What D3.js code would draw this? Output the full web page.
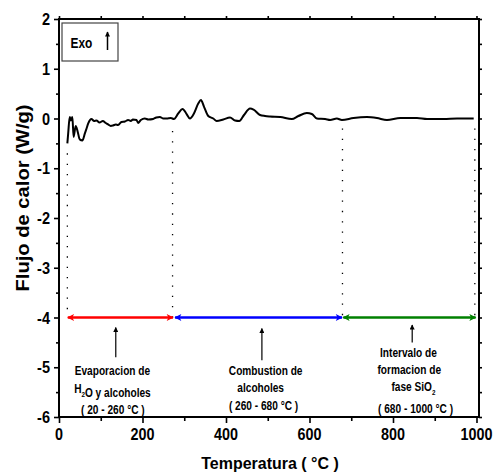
<!DOCTYPE html>
<html>
<head>
<meta charset="utf-8">
<script src="https://cdn.jsdelivr.net/npm/d3@7/dist/d3.min.js"></script>
<style>
  html, body { margin: 0; padding: 0; background: #fff; }
  svg { display: block; }
  text { font-family: "Liberation Sans", Arial, sans-serif; font-weight: bold; fill: #000; }
</style>
</head>
<body>
<svg id="chart" width="494" height="475"></svg>
<script>
// DSC trace: temperature (°C) vs heat flow (W/g)
const temperature = [20, 22, 25.7, 28.8, 32, 35, 40, 44.9, 49.7, 56, 62, 66, 70, 77.7, 84, 89.7, 97, 105,
  112, 117.6, 124, 129.6, 136, 141.6, 149.7, 158, 165.5, 172, 177, 185.7, 189.5, 196, 205.6, 214, 225.5,
  233, 241.6, 250, 257.7, 268, 275.2, 285.5, 296, 305.7, 313.6, 323.2, 333.5, 340, 347.2, 357.5, 369.5,
  377.6, 393.5, 409.6, 421.6, 431.9, 443.1, 457.5, 466, 481.5, 493.5, 505.5, 530, 557.6, 573.4, 593.6,
  605.6, 617.6, 637.5, 649.5, 665.5, 677.6, 705.4, 737.5, 761.5, 785.5, 817.5, 857.5, 881.5, 921.3,
  953.5, 993.3];
const heatFlow = [-0.5, -0.3, 0.03, -0.04, 0.03, -0.37, -0.15, -0.27, -0.42, -0.44, -0.3, -0.2, -0.1,
  -0.01, -0.05, -0.04, -0.08, -0.05, -0.09, -0.12, -0.15, -0.14, -0.12, -0.13, -0.07, -0.06, -0.03,
  -0.05, -0.02, -0.03, -0.09, -0.03, 0.0, -0.02, -0.01, 0.02, 0.03, 0.0, 0.0, 0.01, -0.01, 0.1, 0.19,
  0.09, 0.0, 0.1, 0.3, 0.37, 0.24, 0.05, 0.0, -0.05, -0.02, 0.02, -0.04, -0.05, 0.07, 0.2, 0.18, 0.07,
  0.05, 0.04, 0.03, -0.01, 0.05, 0.11, 0.09, 0.0, -0.01, -0.03, 0.0, -0.03, 0.01, 0.03, 0.01, -0.03,
  0.01, 0.01, -0.01, -0.01, 0.0, 0.0];

// Axis ticks
const xTicks = [0, 200, 400, 600, 800, 1000];
const xMinorTicks = [100, 300, 500, 700, 900];
const yTicks = [-6, -5, -4, -3, -2, -1, 0, 1, 2];
const yMinorTicks = [-5.5, -4.5, -3.5, -2.5, -1.5, -0.5, 0.5, 1.5];

// Temperature intervals marked below the trace
const intervalStart = [21, 278, 681];
const intervalEnd = [273, 678, 998];
const intervalColors = ["#ff0000", "#0000ff", "#008000"];
const intervalLevel = -4;
const dividerTemps = [20, 272, 679, 996];
const dividerTop = [-0.7, -0.25, -0.2, -0.2];

// Pointer arrows and their captions
const pointerTemp = [136, 486, 846];
const pointerTop = [-4.2, -4.22, -4.15];
const pointerBottom = [-4.8, -4.86, -4.5];
const captionLines = [
  [["Evaporacion de"], ["H", {sub: "2"}, "O y alcoholes"], ["( 20 - 260 °C )"]],
  [["Combustion de"], ["alcoholes"], ["( 260 - 680 °C )"]],
  [["Intervalo de"], ["formacion de"], ["fase SiO", {sub: "2"}], ["( 680 - 1000 °C )"]]
];
const captionTemp = [[128, 128, 129], [495, 483, 490], [837, 839, 849, 854]];
const captionLevel = [[-5.16, -5.51, -5.93], [-5.15, -5.49, -5.85], [-4.79, -5.13, -5.47, -5.91]];

const svg = d3.select("#chart");
const x = d3.scaleLinear().domain([0, 1006]).range([59, 479]);
const y = d3.scaleLinear().domain([-6, 2]).range([417, 19]);

// Text with horizontal condensing around its anchor
function label(g, px, py, anchor, size, sx) {
  return g.append("text")
    .attr("text-anchor", anchor)
    .attr("font-size", size)
    .attr("transform", `translate(${px},${py}) scale(${sx},1)`);
}

// Ticks (outward), built with d3 axes
const tickStyle = g => {
  g.select(".domain").remove();
  g.selectAll("line").attr("stroke", "#000").attr("stroke-width", 1.6);
  g.selectAll("text").remove();
};
svg.append("g").attr("transform", `translate(0,${y(-6)})`)
  .call(d3.axisBottom(x).tickValues(xTicks).tickSize(6)).call(tickStyle);
svg.append("g").attr("transform", `translate(0,${y(-6)})`)
  .call(d3.axisBottom(x).tickValues(xMinorTicks).tickSize(4)).call(tickStyle);
svg.append("g").attr("transform", `translate(0,${y(2)})`)
  .call(d3.axisTop(x).tickValues(xTicks.concat(xMinorTicks)).tickSize(3)).call(tickStyle);
svg.append("g").attr("transform", `translate(${x(0)},0)`)
  .call(d3.axisLeft(y).tickValues(yTicks).tickSize(5)).call(tickStyle);
svg.append("g").attr("transform", `translate(${x(0)},0)`)
  .call(d3.axisLeft(y).tickValues(yMinorTicks).tickSize(3)).call(tickStyle);
svg.append("g").attr("transform", `translate(${x(1006)},0)`)
  .call(d3.axisRight(y).tickValues(yTicks.concat(yMinorTicks)).tickSize(3)).call(tickStyle);

// Frame
svg.append("rect")
  .attr("x", x(0)).attr("y", y(2))
  .attr("width", x(1006) - x(0)).attr("height", y(-6) - y(2))
  .attr("fill", "none").attr("stroke", "#000").attr("stroke-width", 2);

// Tick labels
const labels = svg.append("g");
xTicks.forEach(v => label(labels, x(v), 440, "middle", 16.5, 0.87).text(v));
yTicks.forEach(v => label(labels, 50, y(v) + 6, "end", 16.5, 0.88).text(v));

// Axis titles
label(labels, 270, 469, "middle", 17, 0.94).text("Temperatura ( °C )");
labels.append("text")
  .attr("text-anchor", "middle")
  .attr("font-size", 18)
  .attr("transform", `translate(29,198) rotate(-90) scale(1.12,1)`)
  .text("Flujo de calor (W/g)");

// Dotted dividers
svg.append("g").selectAll("line").data(dividerTemps).join("line")
  .attr("x1", d => x(d)).attr("x2", d => x(d))
  .attr("y1", (d, i) => y(dividerTop[i])).attr("y2", y(intervalLevel))
  .attr("stroke", "#000").attr("stroke-width", 1.3)
  .attr("stroke-dasharray", "1.3,9");

// Double-headed interval arrows
const defs = svg.append("defs");
intervalColors.forEach((c, i) => {
  defs.append("marker")
    .attr("id", "head" + i)
    .attr("viewBox", "0 0 10 10").attr("refX", 9).attr("refY", 5)
    .attr("markerWidth", 9).attr("markerHeight", 7)
    .attr("markerUnits", "userSpaceOnUse")
    .attr("orient", "auto-start-reverse")
    .append("path").attr("d", "M0,0 L10,5 L0,10 L2.5,5 Z").attr("fill", c);
});
svg.append("g").selectAll("line").data(intervalStart).join("line")
  .attr("x1", d => x(d)).attr("x2", (d, i) => x(intervalEnd[i]))
  .attr("y1", y(intervalLevel)).attr("y2", y(intervalLevel))
  .attr("stroke", (d, i) => intervalColors[i]).attr("stroke-width", 2.4)
  .attr("marker-start", (d, i) => `url(#head${i})`)
  .attr("marker-end", (d, i) => `url(#head${i})`);

// Pointer arrows
defs.append("marker")
  .attr("id", "pointer")
  .attr("viewBox", "0 0 10 10").attr("refX", 9).attr("refY", 5)
  .attr("markerWidth", 8).attr("markerHeight", 5)
  .attr("markerUnits", "userSpaceOnUse")
  .attr("orient", "auto")
  .append("path").attr("d", "M0,0 L10,5 L0,10 Z").attr("fill", "#000");
svg.append("g").selectAll("line").data(pointerTemp).join("line")
  .attr("x1", d => x(d)).attr("x2", d => x(d))
  .attr("y1", (d, i) => y(pointerBottom[i])).attr("y2", (d, i) => y(pointerTop[i]))
  .attr("stroke", "#000").attr("stroke-width", 1.2)
  .attr("marker-end", "url(#pointer)");

// Captions
captionLines.forEach((lines, gi) => {
  lines.forEach((parts, li) => {
    const t = label(svg, x(captionTemp[gi][li]), y(captionLevel[gi][li]), "middle", 13, 0.78);
    parts.forEach(p => {
      if (typeof p === "string") {
        t.append("tspan").text(p);
      } else {
        t.append("tspan").attr("font-size", 8).attr("dy", 4).text(p.sub);
        t.append("tspan").attr("dy", -4).text("");
      }
    });
  });
});

// Exo legend
svg.append("rect")
  .attr("x", 62).attr("y", 23).attr("width", 56).attr("height", 38)
  .attr("fill", "none").attr("stroke", "#444").attr("stroke-width", 1.2);
label(svg, 70.5, 48, "start", 14, 0.85).text("Exo");
defs.append("marker")
  .attr("id", "exoHead")
  .attr("viewBox", "0 0 10 10").attr("refX", 9).attr("refY", 5)
  .attr("markerWidth", 7).attr("markerHeight", 5)
  .attr("markerUnits", "userSpaceOnUse")
  .attr("orient", "auto")
  .append("path").attr("d", "M0,0 L10,5 L0,10 Z").attr("fill", "#000");
svg.append("line")
  .attr("x1", 107.5).attr("x2", 107.5).attr("y1", 50).attr("y2", 32)
  .attr("stroke", "#000").attr("stroke-width", 1.5)
  .attr("marker-end", "url(#exoHead)");

// Heat-flow trace
const trace = d3.line()
  .x((d, i) => x(temperature[i]))
  .y(d => y(d))
  .curve(d3.curveMonotoneX);
svg.append("path")
  .datum(heatFlow)
  .attr("d", trace)
  .attr("fill", "none")
  .attr("stroke", "#000")
  .attr("stroke-width", 2)
  .attr("stroke-linejoin", "round");
</script>
</body>
</html>
